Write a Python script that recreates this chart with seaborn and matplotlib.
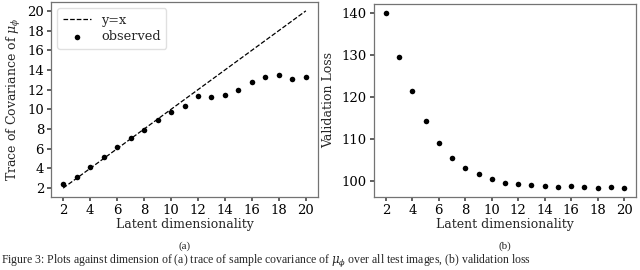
import matplotlib
matplotlib.use("Agg")
import matplotlib.pyplot as plt
import seaborn as sns
import pandas as pd

dims = list(range(2, 21))
trace_cov = [2.4, 3.1, 4.15, 5.15, 6.15, 7.05, 7.95, 8.95, 9.7, 10.35,
             11.4, 11.3, 11.5, 12.0, 12.75, 13.3, 13.5, 13.05, 13.3]
val_loss = [140.1, 129.5, 121.5, 114.4, 109.2, 105.5, 103.1, 101.9, 100.5, 99.6,
            99.4, 99.2, 98.9, 98.6, 98.9, 98.6, 98.5, 98.7, 98.4]
xticks = [2, 4, 6, 8, 10, 12, 14, 16, 18, 20]

sns.set_theme(style="ticks", rc={
    "axes.edgecolor": "0.45",
    "axes.linewidth": 0.9,
    "xtick.color": "0.3",
    "ytick.color": "0.3",
    "xtick.labelcolor": "black",
    "ytick.labelcolor": "black",
    "xtick.major.size": 3,
    "ytick.major.size": 3,
})
plt.rcParams["font.family"] = ["DejaVu Serif"]
plt.rcParams["mathtext.fontset"] = "dejavuserif"

df = pd.DataFrame({"dim": dims, "trace": trace_cov, "loss": val_loss})

fig = plt.figure(figsize=(6.4, 2.7), dpi=100)
ax1 = fig.add_axes([51/640, 1 - 197/270, (318-51)/640, (197-2)/270])
ax2 = fig.add_axes([374/640, 1 - 197/270, (636-374)/640, (197-4)/270])

fs = 9.5
lfs = 9
sns.lineplot(x=dims, y=dims, ax=ax1, color="black", linestyle="--", linewidth=0.9, label="y=x")
sns.scatterplot(data=df, x="dim", y="trace", ax=ax1, color="black", s=16, edgecolor="black",
                linewidth=0, label="observed")
ax1.set_xlim(1.1, 20.9)
ax1.set_ylim(1.1, 20.9)
ax1.set_xticks(xticks)
ax1.set_yticks([2, 4, 6, 8, 10, 12, 14, 16, 18, 20])
ax1.set_xlabel("Latent dimensionality", fontsize=lfs, labelpad=1)
ax1.set_ylabel(r"Trace of Covariance of $\mu_\phi$", fontsize=lfs, labelpad=3)
ax1.tick_params(labelsize=fs, pad=2)
leg = ax1.legend(loc="upper left", fontsize=lfs + 0.3, frameon=True, handlelength=2.2,
                 borderpad=0.4, labelspacing=0.3, handletextpad=0.8)
leg.get_frame().set_edgecolor("0.85")

sns.scatterplot(data=df, x="dim", y="loss", ax=ax2, color="black", s=16, edgecolor="black",
                linewidth=0)
ax2.set_xlim(1.1, 20.9)
ax2.set_xticks(xticks)
ax2.set_yticks([100, 110, 120, 130, 140])
ax2.set_xlabel("Latent dimensionality", fontsize=lfs, labelpad=1)
ax2.set_ylabel("Validation Loss", fontsize=lfs, labelpad=5)
ax2.tick_params(labelsize=fs, pad=2)

fig.text(185/640, 1 - 246/270, "(a)", ha="center", va="center", fontsize=8,
         family="Liberation Serif")
fig.text(505/640, 1 - 246/270, "(b)", ha="center", va="center", fontsize=8,
         family="Liberation Serif")
fig.text(0.002, 0.004,
         "Figure 3: Plots against dimension of (a) trace of sample covariance of $\\mu_\\phi$ over all test images, (b) validation loss",
         ha="left", va="bottom", fontsize=8.5, family="Liberation Serif")

fig.savefig("out.png", dpi=100)
